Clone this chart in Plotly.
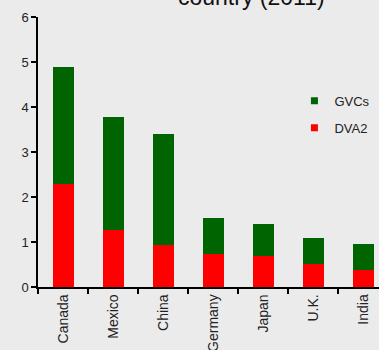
import plotly.graph_objects as go

countries = ["Canada", "Mexico", "China", "Germany", "Japan", "U.K.", "India"]
dva2 = [2.28, 1.27, 0.93, 0.73, 0.70, 0.51, 0.38]
gvcs = [2.62, 2.51, 2.46, 0.81, 0.71, 0.57, 0.58]

GREEN = "#006400"
RED = "#FF0000"
BG = "#EBEBEB"
FONT = "Liberation Sans, Arial, sans-serif"

fig = go.Figure()

# stacked bars: DVA2 at the bottom, GVCs on top
fig.add_trace(go.Bar(x=countries, y=dva2, name="DVA2", marker=dict(color=RED, line=dict(width=0)),
                     width=0.42, showlegend=False))
fig.add_trace(go.Bar(x=countries, y=gvcs, name="GVCs", marker=dict(color=GREEN, line=dict(width=0)),
                     width=0.42, showlegend=False))

# small square legend keys
fig.add_trace(go.Scatter(x=[None], y=[None], mode="markers", name="GVCs", legendgroup="g",
                         marker=dict(symbol="square", size=7, color=GREEN)))
fig.add_trace(go.Scatter(x=[None], y=[None], mode="markers", name="DVA2", legendgroup="d",
                         marker=dict(symbol="square", size=7, color=RED)))

fig.update_layout(
    width=379, height=350,
    margin=dict(l=38, r=0, t=17, b=63),
    paper_bgcolor=BG, plot_bgcolor=BG,
    barmode="stack",
    font=dict(family=FONT, size=13, color="#222222"),
    showlegend=True,
    legend=dict(x=0.752, y=0.745, xanchor="left", yanchor="top",
                bgcolor="rgba(0,0,0,0)", traceorder="grouped", tracegroupgap=7,
                font=dict(size=13, color="#222222")),
    annotations=[dict(text="country (2011)", xref="paper", yref="paper",
                      x=0.626, y=1.02, xanchor="center", yanchor="bottom",
                      showarrow=False, font=dict(size=23, color="#111111"))],
)

fig.update_xaxes(
    range=[-0.5, 6.32], showgrid=False, zeroline=False, automargin=False,
    showline=True, linecolor="black", linewidth=1.5,
    ticks="outside", tickson="boundaries", ticklen=5, tickcolor="black", tickwidth=1.5,
    tickangle=-90, tickfont=dict(size=14, color="#222222"),
)
fig.update_yaxes(
    range=[0, 6], dtick=1, showgrid=False, zeroline=False, automargin=False,
    showline=True, linecolor="black", linewidth=1.5,
    ticks="outside", ticklen=5, tickcolor="black", tickwidth=1.5,
    tickfont=dict(size=13, color="#222222"),
)

fig.write_html("out.html")
